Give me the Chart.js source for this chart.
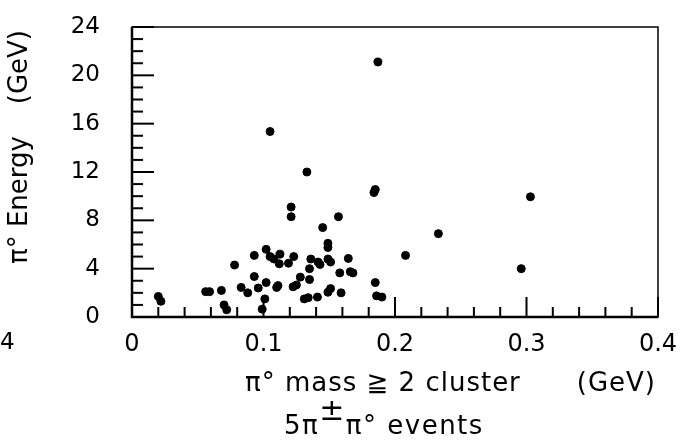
<!DOCTYPE html>
<html>
<head>
<meta charset="utf-8">
<script src="https://cdn.jsdelivr.net/npm/chart.js@4.4.1/dist/chart.umd.min.js"></script>
<style>
  html, body { margin: 0; padding: 0; background: #fff; }
  #wrap { width: 684px; height: 445px; position: relative; }
</style>
</head>
<body>
<div id="wrap"><canvas id="grafico"></canvas></div>
<script>
/* ============================
      DADOS
============================ */
// pi0 mass from >= 2 clusters (GeV)
const massGeV = [
  0.020, 0.022, 0.056, 0.059, 0.068, 0.070, 0.072, 0.078, 0.083, 0.088,
  0.093, 0.093, 0.096, 0.102, 0.102, 0.101, 0.099, 0.105, 0.108, 0.1125,
  0.112, 0.119, 0.123, 0.110, 0.111, 0.1225, 0.125, 0.128, 0.135, 0.131,
  0.134, 0.141, 0.136, 0.135, 0.1415, 0.143, 0.149, 0.151, 0.149, 0.149,
  0.149, 0.151, 0.145, 0.157, 0.158, 0.1645, 0.166, 0.168, 0.159, 0.105,
  0.133, 0.121, 0.121, 0.184, 0.185, 0.187, 0.185, 0.186, 0.190, 0.208,
  0.233, 0.296, 0.303
];
// pi0 energy (GeV)
const energyGeV = [
  1.7, 1.3, 2.1, 2.1, 2.2, 1.0, 0.6, 4.3, 2.45, 2.0,
  5.1, 3.35, 2.4, 5.6, 2.85, 1.5, 0.65, 5.0, 4.8, 5.2,
  4.4, 4.45, 5.0, 2.45, 2.6, 2.5, 2.65, 3.3, 3.1, 1.5,
  1.6, 1.65, 4.8, 4.0, 4.55, 4.35, 4.8, 4.55, 6.1, 5.75,
  2.05, 2.35, 7.4, 8.3, 3.65, 4.85, 3.75, 3.65, 2.0, 15.35,
  12.0, 9.1, 8.3, 10.3, 10.55, 21.1, 2.85, 1.75, 1.65, 5.1,
  6.9, 4.0, 9.95
];

const xTicks = [0, 0.1, 0.2, 0.3, 0.4];
const yTicks = [0, 4, 8, 12, 16, 20, 24];

const pontos = massGeV.map((m, i) => ({ x: m, y: energyGeV[i] }));

const FONTE = '"DejaVu Sans", sans-serif';

/* ============================
      MOLDURA, TRACINHOS E TITULOS
============================ */
const molduraPlugin = {
  id: "moldura",
  afterDraw(chart) {
    const ctx = chart.ctx;
    const a = chart.chartArea;
    const sx = chart.scales.x;
    const sy = chart.scales.y;

    ctx.save();
    ctx.strokeStyle = "#000";

    // caixa
    ctx.lineWidth = 1.5;
    ctx.strokeRect(a.left, a.top, a.right - a.left, a.bottom - a.top);
    ctx.lineWidth = 2.5;
    ctx.beginPath();
    ctx.moveTo(a.left, a.top);
    ctx.lineTo(a.left, a.bottom);
    ctx.lineTo(a.right, a.bottom);
    ctx.stroke();

    // tracinhos do eixo y (para dentro)
    ctx.lineWidth = 2;
    for (let v = 0; v <= 24; v++) {
      const py = sy.getPixelForValue(v);
      const len = v % 4 === 0 ? 22 : 11;
      ctx.beginPath();
      ctx.moveTo(a.left, py);
      ctx.lineTo(a.left + len, py);
      ctx.stroke();
    }

    // tracinhos do eixo x
    for (let k = 0; k <= 20; k++) {
      const px = sx.getPixelForValue(k * 0.02);
      const len = k % 5 === 0 ? 20 : 10;
      ctx.beginPath();
      ctx.moveTo(px, a.bottom);
      ctx.lineTo(px, a.bottom - len);
      ctx.stroke();
    }

    // titulo do eixo x
    ctx.fillStyle = "#000";
    ctx.textBaseline = "middle";
    ctx.font = "26px " + FONTE;
    ctx.letterSpacing = "1px";
    ctx.textAlign = "left";
    ctx.fillText("π° mass ≧ 2 cluster", 245, 384);
    ctx.textAlign = "right";
    ctx.fillText("(GeV)", 656, 384);

    // segunda linha: 5π±π° events
    ctx.letterSpacing = "1.5px";
    ctx.textAlign = "left";
    let x0 = 284;
    ctx.fillText("5π", x0, 427);
    x0 += ctx.measureText("5π").width;
    ctx.font = "30px " + FONTE;
    ctx.fillText("±", x0, 412);
    x0 += ctx.measureText("±").width;
    ctx.font = "26px " + FONTE;
    ctx.fillText("π° events", x0, 427);
    ctx.letterSpacing = "0px";

    // pedaco do grafico vizinho
    ctx.font = "23px " + FONTE;
    ctx.fillText("4", 0, 343);

    // titulo do eixo y (girado)
    ctx.font = "26px " + FONTE;
    ctx.translate(20, 0);
    ctx.rotate(-Math.PI / 2);
    ctx.textAlign = "left";
    ctx.fillText("π° Energy", -264, 0);
    ctx.textAlign = "right";
    ctx.fillText("(GeV)", -30, 0);

    ctx.restore();
  }
};

/* ============================
      GRAFICO
============================ */
new Chart(document.getElementById("grafico"), {
  type: "scatter",
  data: {
    datasets: [{
      label: "eventos",
      data: pontos,
      backgroundColor: "#000",
      borderColor: "#000",
      pointRadius: 4,
      pointHoverRadius: 4
    }]
  },
  options: {
    responsive: true,
    maintainAspectRatio: false,
    animation: false,
    layout: { padding: { left: 0, top: 27, right: 26, bottom: 0 } },
    plugins: {
      legend: { display: false },
      tooltip: { enabled: false }
    },
    scales: {
      x: {
        type: "linear",
        min: 0,
        max: 0.4,
        afterBuildTicks: s => { s.ticks = xTicks.map(v => ({ value: v })); },
        afterFit: s => {
          s.height = 128;
          s.paddingLeft = 0;
          s.paddingRight = 0;
        },
        grid: { display: false, drawTicks: false },
        border: { display: false },
        ticks: {
          color: "#000",
          padding: 13,
          maxRotation: 0,
          font: { family: FONTE, size: 24 },
          callback: v => (v === 0 ? "0" : String(Math.round(v * 10) / 10))
        }
      },
      y: {
        min: 0,
        max: 24,
        afterBuildTicks: s => { s.ticks = yTicks.map(v => ({ value: v })); },
        afterFit: s => {
          s.width = 132;
          s.paddingTop = 0;
          s.paddingBottom = 0;
        },
        grid: { display: false, drawTicks: false },
        border: { display: false },
        ticks: {
          color: "#000",
          padding: 32,
          font: { family: FONTE, size: 23 }
        }
      }
    }
  },
  plugins: [molduraPlugin]
});
</script>
</body>
</html>
